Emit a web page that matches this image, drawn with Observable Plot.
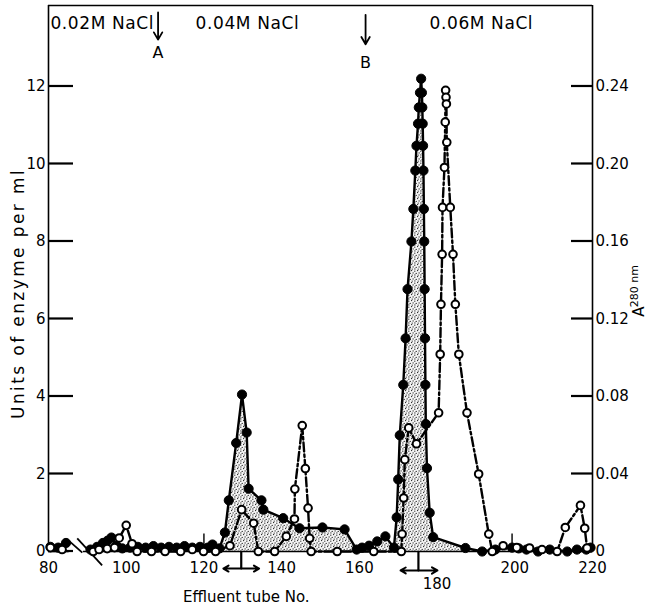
<!DOCTYPE html>
<html><head><meta charset="utf-8">
<script src="https://cdn.jsdelivr.net/npm/d3@7"></script>
<script src="https://cdn.jsdelivr.net/npm/@observablehq/plot@0.6"></script>
<style>body{margin:0;background:#fff} #chart{width:648px;height:610px}</style>
</head><body><div id="chart"></div>
<script>
// ---- data ----
const enzymeTube = [80.5, 82.5, 84.5, 87, 90.8, 92.5, 94.0, 95.2, 96.2, 97.5, 99.0, 101, 103, 105, 107, 109, 111, 113, 115, 117, 119, 121, 122.2, 124.0, 125.4, 126.4, 128.3, 129.8, 131.0, 131.5, 134.8, 135.3, 140.4, 144.6, 150.5, 156.2, 159.3, 160.7, 162.5, 164.6, 166.7, 168.9, 169.6, 170.0, 170.4, 171.3, 171.9, 172.4, 173.4, 173.9, 174.4, 174.7, 175.1, 175.3, 175.6, 175.9, 176.1, 176.2, 176.3, 176.4, 176.5, 176.6, 176.7, 176.8, 176.9, 177.0, 177.1, 177.4, 178.1, 179.0, 187.3, 191.6, 195.0, 199.3, 201.0, 203.0, 206.0, 209.0, 213.5, 216.0, 218.4, 219.5];
const enzymeUnits = [0.12, 0.10, 0.22, null, 0.05, 0.12, 0.22, 0.28, 0.36, 0.15, 0.08, 0.10, 0.12, 0.10, 0.14, 0.10, 0.12, 0.10, 0.14, 0.10, 0.12, 0.10, 0.18, 0.08, 0.49, 1.32, 2.80, 4.05, 3.07, 1.62, 1.32, 1.08, 0.86, 0.60, 0.62, 0.57, 0.05, 0.10, 0.15, 0.26, 0.39, 0.10, 0.88, 1.86, 3.00, 4.30, 5.50, 6.77, 8.00, 8.84, 9.83, 10.47, 11.04, 11.46, 11.84, 12.20, 11.84, 11.46, 11.04, 10.47, 9.83, 8.84, 8.00, 6.77, 5.50, 4.30, 3.29, 2.15, 1.00, 0.37, 0.09, 0.00, 0.05, 0.10, 0.08, 0.05, 0.00, 0.05, 0.00, 0.05, 0.05, 0.10];

const a280Tube = [80.5, 83.5, 87, 91.5, 93.0, 95.1, 97.0, 98.2, 100.0, 101.5, 102.8, 106.5, 110.0, 114.0, 117.0, 119.9, 123.0, 126.7, 129.7, 132.8, 134.0, 138.2, 141.2, 143.3, 143.4, 145.3, 146.1, 146.8, 147.2, 147.6, 154.3, 163.7, 170.8, 171.0, 171.4, 171.7, 172.7, 174.7, 180.4, 180.8, 181.0, 181.3, 181.4, 181.9, 182.1, 182.2, 182.3, 182.4, 182.5, 183.4, 184.1, 184.7, 185.6, 187.7, 190.7, 193.3, 194.2, 197.0, 200.5, 203.8, 207.0, 210.9, 213.0, 216.9, 218.0, 218.6];
const a280Abs = [0.002, 0.001, null, 0.000, 0.001, 0.0015, 0.002, 0.007, 0.0135, 0.004, 0.000, 0.000, 0.000, 0.000, 0.001, 0.000, 0.000, 0.003, 0.0216, 0.0146, 0.000, 0.000, 0.0078, 0.0168, 0.0322, 0.065, 0.0428, 0.0224, 0.0068, 0.000, 0.000, 0.000, 0.000, 0.009, 0.0276, 0.0474, 0.0638, 0.0556, 0.0716, 0.1018, 0.1276, 0.1534, 0.1776, 0.1982, 0.2216, 0.238, 0.2344, 0.231, 0.2112, 0.1776, 0.1534, 0.1276, 0.1018, 0.0716, 0.040, 0.009, 0.000, 0.003, 0.002, 0.0018, 0.001, 0.000, 0.0124, 0.0238, 0.012, 0.0018];

const leftTicks = [0, 2, 4, 6, 8, 10, 12];
const rightTicks = [0, 0.04, 0.08, 0.12, 0.16, 0.20, 0.24];
const xTicks = [80, 100, 120, 140, 160, 200, 220];
const xTicksLow = [180];

const bufferLabels = ["0.02M NaCl", "0.04M NaCl", "0.06M NaCl"];
const bufferTube = [80.5, 131.2, 191.4];
const changeLabels = ["A", "B"];
const changeTube = [108.2, 161.6];

const poolStart = [125.0, 170.6];
const poolMid = [129.6, 175.2];
const poolEnd = [134.2, 180.1];

const sampleMarks = [120, 199.3];

const yLabel = "Units of enzyme per ml";
const xLabel = "Effluent tube No.";

// ratio between right (A280) and left (units) axes: 0.24 at 12 units
const absPerUnit = 0.02;
const yTop = 14.09;
const xMin = 80, xMax = 220;

// ---- tables ----
const enzyme = enzymeTube.map((t, i) => ({t, u: enzymeUnits[i]}));
const a280 = a280Tube.map((t, i) => ({t, u: a280Abs[i] == null ? null : a280Abs[i] / absPerUnit}));
const buffers = bufferLabels.map((label, i) => ({label, t: bufferTube[i]}));
const changes = changeLabels.map((label, i) => ({label, t: changeTube[i]}));
const pools = poolStart.map((s, i) => ({s, m: poolMid[i], e: poolEnd[i], y: i === 0 ? -0.44 : -0.49}));
const rightTickUnits = rightTicks.map(v => v / absPerUnit);

const fmtRight = d => (Math.abs(d) < 1e-9 ? "0" : (d * absPerUnit).toFixed(2));

const W = 648, ML = 48, MR = 56;
const frameW = W - ML - MR;
const tubesPerPx = (xMax - xMin) / frameW;
const leftTickLen = 25 * tubesPerPx;
const rightTickLen = 21 * tubesPerPx;

const svg = Plot.plot({
  width: W,
  height: 610,
  marginLeft: ML,
  marginRight: MR,
  marginTop: 5,
  marginBottom: 59,
  x: {domain: [xMin, xMax], axis: null},
  y: {domain: [0, yTop], axis: null},
  style: {fontFamily: "DejaVu Sans", fontSize: "15px", background: "white", color: "black", overflow: "visible"},
  marks: [
    // stippled area under enzyme curve
    Plot.areaY(enzyme, {x: "t", y1: 0, y2: "u", fill: "url(#stipple)"}),
    // frame
    Plot.ruleX([xMin, xMax], {strokeWidth: 1.6}),
    Plot.ruleY([yTop], {strokeWidth: 1.6}),
    Plot.ruleY([0], {x1: xMin, x2: 85.3, strokeWidth: 1.6}),
    Plot.ruleY([0], {x1: 89.0, x2: xMax, strokeWidth: 1.6}),
    // axis break marks
    Plot.link([{x1: 85.2, y1: 0.28, x2: 88.7, y2: -0.03}, {x1: 87.4, y1: 0.34, x2: 93.8, y2: -0.36}],
      {x1: "x1", y1: "y1", x2: "x2", y2: "y2", strokeWidth: 1.8}),
    // sample marks
    Plot.ruleX(sampleMarks, {y1: 0, y2: 0.45, strokeWidth: 1.4}),
    // inward tick marks as thin bars
    Plot.rect(leftTicks, {x1: xMin, x2: xMin + leftTickLen, y1: d => d, y2: d => d, insetTop: -1.1, insetBottom: -1.1, fill: "black"}),
    Plot.rect(rightTickUnits, {x1: xMax - rightTickLen, x2: xMax, y1: d => d, y2: d => d, insetTop: -1.1, insetBottom: -1.1, fill: "black"}),
    // axis labels
    Plot.axisY(leftTicks, {anchor: "left", tickSize: 0, tickPadding: 3, label: null}),
    Plot.axisY(rightTickUnits, {anchor: "right", tickSize: 0, tickPadding: 3, tickFormat: fmtRight, label: null}),
    Plot.axisX(xTicks, {anchor: "bottom", tickSize: 0, tickPadding: 11, label: null}),
    Plot.axisX(xTicksLow, {anchor: "bottom", tickSize: 0, tickPadding: 27, label: null}),
    // data lines
    Plot.line(enzyme, {x: "t", y: "u", stroke: "black", strokeWidth: 2.4}),
    Plot.line(a280, {x: "t", y: "u", stroke: "black", strokeWidth: 2.4, strokeDasharray: "9,3,2.5,3"}),
    Plot.dot(enzyme, {x: "t", y: "u", r: 4.6, fill: "black", stroke: "black", strokeWidth: 1}),
    Plot.dot(a280, {x: "t", y: "u", r: 3.8, fill: "white", stroke: "black", strokeWidth: 2}),
    // pooled fraction markers
    Plot.arrow(pools, {x1: "m", x2: "s", y1: "y", y2: "y", strokeWidth: 2, headLength: 8}),
    Plot.arrow(pools, {x1: "m", x2: "e", y1: "y", y2: "y", strokeWidth: 2, headLength: 8}),
    Plot.ruleX(pools, {x: "m", y1: 0, y2: "y", strokeWidth: 2.2}),
    // buffer annotations
    Plot.text(buffers.slice(0, 1), {x: "t", y: 13.63, text: "label", textAnchor: "start", fontSize: 17, lineAnchor: "middle"}),
    Plot.text(buffers.slice(1), {x: "t", y: 13.63, text: "label", textAnchor: "middle", fontSize: 17, lineAnchor: "middle"}),
    Plot.arrow(changes, {x1: "t", x2: "t", y1: (d, i) => i === 0 ? 13.91 : 13.85, y2: (d, i) => i === 0 ? 13.21 : 13.09, strokeWidth: 1.8, headLength: 7}),
    Plot.text(changes, {x: "t", y: (d, i) => i === 0 ? 12.88 : 12.62, text: "label", fontSize: 16, lineAnchor: "middle"}),
    // axis titles
    Plot.text([yLabel], {frameAnchor: "left", y: 6.66, dx: -30, rotate: -90, fontSize: 17, textAnchor: "middle", lineAnchor: "middle"}),
    Plot.text(["A"], {frameAnchor: "right", y: 6.19, dx: 47, rotate: -90, fontSize: 15, textAnchor: "middle", lineAnchor: "middle"}),
    Plot.text(["280 nm"], {frameAnchor: "right", y: 6.85, dx: 42, rotate: -90, fontSize: 11, textAnchor: "middle", lineAnchor: "middle"}),
    Plot.text([xLabel], {frameAnchor: "bottom", x: 130.9, dy: 46, fontSize: 15, lineAnchor: "middle"})
  ]
});

// stipple pattern for the shaded area
const ns = "http://www.w3.org/2000/svg";
const defs = document.createElementNS(ns, "defs");
const pat = document.createElementNS(ns, "pattern");
pat.setAttribute("id", "stipple");
pat.setAttribute("width", "6");
pat.setAttribute("height", "6");
pat.setAttribute("patternUnits", "userSpaceOnUse");
const bg = document.createElementNS(ns, "rect");
bg.setAttribute("width", "6"); bg.setAttribute("height", "6"); bg.setAttribute("fill", "#f6f6f6");
pat.appendChild(bg);
[[0.8, 1.2], [3.6, 0.6], [2.2, 3.4], [5.1, 2.9], [0.9, 4.9], [4.2, 5.1]].forEach(([cx, cy]) => {
  const c = document.createElementNS(ns, "circle");
  c.setAttribute("cx", cx); c.setAttribute("cy", cy); c.setAttribute("r", "0.65"); c.setAttribute("fill", "#222");
  pat.appendChild(c);
});
defs.appendChild(pat);
svg.insertBefore(defs, svg.firstChild);

d3.select(svg).selectAll("text").filter(function() { return this.textContent === yLabel; }).attr("letter-spacing", 2.4);
d3.select(svg).selectAll("text").filter(function() { return bufferLabels.includes(this.textContent); }).attr("letter-spacing", 0.6);

document.getElementById("chart").appendChild(svg);
</script>
</body></html>
